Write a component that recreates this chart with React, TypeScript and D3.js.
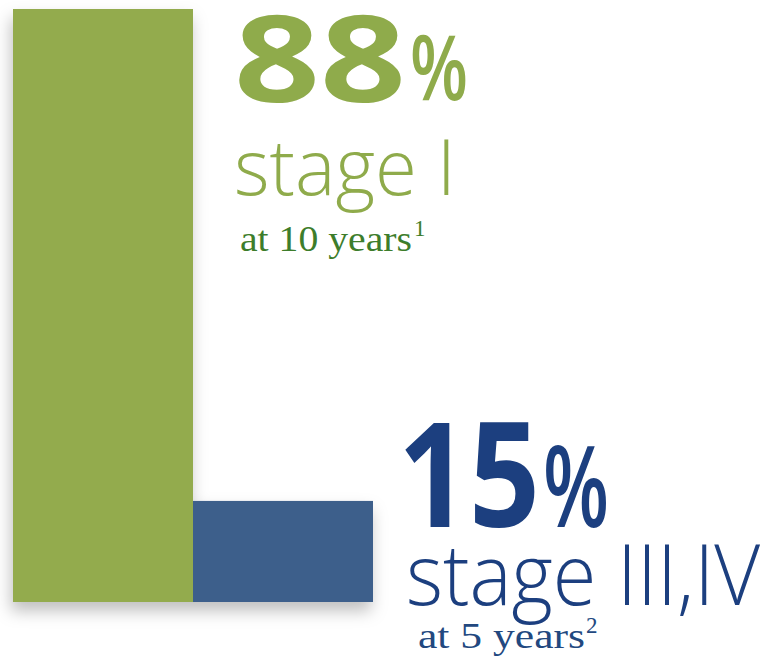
import React from 'react';
import * as d3 from 'd3';

// ---- data ----
const categories: string[] = ['stage I', 'stage III,IV'];
const values: number[] = [88, 15];
const valueLabels: string[] = ['88', '15'];
const stageLabels: string[] = ['stage I', 'stage III,IV'];
const periodLabels: string[] = ['at 10 years', 'at 5 years'];
const footnotes: string[] = ['1', '2'];

// ---- styles ----
const barColors = ['#93ab4d', '#3e5f8b'];
const bigTextColors = ['#8fab4b', '#1c3f7f'];
const smallTextColors = ['#3d7d2b', '#22487f'];

const W = 766;
const H = 661;

// label layout (position/size of each text block)
const layout = [
  {
    num: { x: 234, y: 102, fs: 120, len: 172 },
    pct: { x: 410, y: 100, fs: 90, len: 58 },
    stage: { x: 234, y: 195, fs: 78, len: 222 },
    period: { x: 240, y: 251, fs: 36, len: 172 },
    foot: { x: 414, y: 236, fs: 23 },
  },
  {
    num: { x: 398, y: 527, fs: 146, len: 142 },
    pct: { x: 543, y: 527, fs: 112, len: 66 },
    stage: { x: 406, y: 605, fs: 84, len: 354 },
    period: { x: 418, y: 648, fs: 35, len: 167 },
    foot: { x: 586, y: 633, fs: 23 },
  },
];

export default function App() {
  const x = d3.scaleBand<string>().domain(categories).range([13, 373]).padding(0);
  const y = d3.scaleLinear().domain([0, 88]).range([602, 9]);

  const sans = "'Open Sans', 'Noto Sans', sans-serif";
  const serif = "Liberation Serif, serif";

  return (
    <svg
      width={W}
      height={H}
      viewBox={`0 0 ${W} ${H}`}
      style={{ position: 'absolute', left: 0, top: 0, background: '#fff' }}
    >
      <defs>
        <filter id="shadow" x="-20%" y="-20%" width="140%" height="140%">
          <feDropShadow dx={-2} dy={9} stdDeviation={8} floodColor="#000" floodOpacity={0.25} />
        </filter>
      </defs>
      <g filter="url(#shadow)">
        {categories.map((c, i) => (
          <rect
            key={c}
            x={x(c)!}
            y={y(values[i])}
            width={x.bandwidth()}
            height={y(0) - y(values[i])}
            fill={barColors[i]}
          />
        ))}
      </g>
      {categories.map((c, i) => {
        const L = layout[i];
        return (
          <g key={'lbl' + c}>
            <text
              x={L.num.x}
              y={L.num.y}
              fontFamily={sans}
              fontWeight={700}
              fontSize={L.num.fs}
              fill={bigTextColors[i]}
              textLength={L.num.len}
              lengthAdjust="spacingAndGlyphs"
            >
              {valueLabels[i]}
            </text>
            <text
              x={L.pct.x}
              y={L.pct.y}
              fontFamily={sans}
              fontWeight={600}
              fontSize={L.pct.fs}
              fill={bigTextColors[i]}
              textLength={L.pct.len}
              lengthAdjust="spacingAndGlyphs"
            >
              %
            </text>
            <text
              x={L.stage.x}
              y={L.stage.y}
              fontFamily={sans}
              fontWeight={300}
              fontSize={L.stage.fs}
              fill={bigTextColors[i]}
              textLength={L.stage.len}
              lengthAdjust="spacingAndGlyphs"
            >
              {stageLabels[i]}
            </text>
            <text
              x={L.period.x}
              y={L.period.y}
              fontFamily={serif}
              fontSize={L.period.fs}
              fill={smallTextColors[i]}
              textLength={L.period.len}
              lengthAdjust="spacingAndGlyphs"
            >
              {periodLabels[i]}
            </text>
            <text
              x={L.foot.x}
              y={L.foot.y}
              fontFamily={serif}
              fontSize={L.foot.fs}
              fill={smallTextColors[i]}
            >
              {footnotes[i]}
            </text>
          </g>
        );
      })}
    </svg>
  );
}
